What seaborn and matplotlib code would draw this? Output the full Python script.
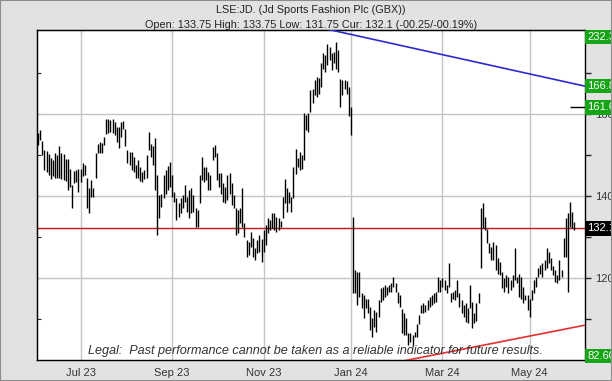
import numpy as np
import pandas as pd
import seaborn as sns
import matplotlib
matplotlib.use('Agg')
import matplotlib.pyplot as plt
import matplotlib.transforms as mtransforms
from matplotlib.patches import Rectangle

#%%  data (daily high / low, UK trading days)

start_date = '2023-06-05'
end_date = '2024-06-03'
uk_holidays = ['2023-08-28', '2023-12-25', '2023-12-26', '2024-01-01',
               '2024-03-29', '2024-04-01', '2024-05-06', '2024-05-27']

highs = [155.3, 156.1, 153.5, 151.2, 151.0, 150.2, 149.2, 148.8, 150.4, 150.0,
         152.2, 150.4, 150.2, 149.0, 149.0, 146.5, 142.7, 146.1, 146.3, 146.6,
         146.7, 148.1, 147.6, 144.3, 141.9, 143.9, 141.9, 150.6, 152.8, 153.1,
         153.0, 154.5, 158.9, 158.7, 158.5, 158.7, 158.1, 156.9, 156.9, 158.1,
         158.3, 156.3, 151.2, 150.8, 150.8, 149.6, 147.6, 148.8, 147.2, 145.9,
         146.3, 150.0,
         155.7, 152.8, 152.2, 154.1, 145.1, 140.2, 140.5, 145.1, 146.3, 147.3,
         148.4, 145.1, 141.1, 139.4, 138.2, 139.4, 140.2, 142.7, 139.8, 141.5,
         141.9, 140.2, 137.0, 136.6, 145.1, 149.6, 147.1, 147.1, 145.9, 145.1,
         152.0, 152.4, 150.4, 145.5, 145.5, 143.1, 142.3, 145.1, 145.5, 143.1,
         140.2, 137.0, 136.6, 137.0, 141.9, 133.3, 129.3, 128.9, 131.3, 129.7,
         127.2,
         129.3, 130.5, 129.6,
         131.7, 132.9, 134.6, 134.1, 135.8, 135.9, 135.0, 134.6, 133.8, 139.8,
         144.1, 141.9, 140.9, 139.8, 147.2, 151.4, 149.2, 150.8, 150.0, 160.2,
         159.8, 160.2, 165.9, 166.0, 168.3, 169.1, 168.7, 172.4, 174.8, 174.4,
         177.2, 176.4, 175.0, 175.2, 177.6, 175.6, 168.5, 168.3, 168.3, 168.0,
         166.7, 161.8,
         135.0, 121.9, 121.5, 121.5, 116.3, 115.8, 115.0, 115.0, 113.0, 110.2,
         112.2, 111.8, 114.6, 117.5, 117.9, 118.3, 117.9, 118.3, 118.7, 120.3,
         118.7, 116.7, 115.8, 112.5, 111.4, 110.2, 106.5, 106.5, 106.1, 106.9,
         108.9, 111.0, 113.4, 113.8, 113.4, 114.6, 115.4, 115.8, 116.3, 116.7,
         120.3, 119.5, 119.9,
         119.5, 118.3, 123.6, 116.3, 116.7, 117.1, 119.5, 116.3, 114.6, 113.4,
         113.8, 112.6, 118.3, 114.2, 111.4, 114.0, 116.3, 137.0, 138.2, 135.0,
         132.0, 128.5, 127.6, 128.9, 128.0, 124.8, 124.0, 121.5, 119.9, 120.7,
         120.3, 119.5, 120.7, 127.2, 120.3, 121.0, 120.3, 117.9, 115.8, 115.8,
         115.0, 117.1, 119.5, 120.3, 122.4, 123.2, 123.6, 124.4, 127.2, 126.4,
         124.8, 123.0, 121.9, 120.7, 124.4, 121.9, 129.7, 134.6, 135.9, 138.6,
         136.2, 133.75]

lows = [152.4, 153.7, 150.0, 146.3, 145.9, 145.1, 144.1, 144.9, 144.5, 144.3,
        144.5, 144.1, 143.9, 143.7, 141.5, 142.3, 137.2, 143.1, 143.5, 141.1,
        143.5, 144.9, 145.1, 137.0, 135.8, 139.8, 139.8, 144.3, 150.4, 150.4,
        150.4, 152.4, 155.1, 155.3, 155.7, 155.4, 154.9, 153.2, 151.6, 154.5,
        156.3, 152.2, 148.0, 147.6, 146.3, 145.9, 144.5, 144.3, 143.7, 143.5,
        144.1, 144.3,
        151.2, 149.6, 147.6, 141.5, 130.5, 134.6, 137.4, 139.4, 140.5, 141.5,
        142.3, 139.8, 138.6, 134.1, 135.0, 135.8, 137.0, 138.6, 136.2, 134.6,
        135.8, 136.2, 132.5, 132.5, 138.2, 143.9, 143.5, 143.9, 141.5, 141.5,
        148.8, 149.6, 143.9, 142.3, 140.6, 138.6, 138.2, 139.0, 140.6, 137.8,
        137.0, 130.5, 130.9, 133.3, 132.5, 130.1, 125.2, 125.6, 127.6, 125.2,
        124.4,
        126.0, 126.4, 124.0,
        126.4, 128.0, 130.9, 131.7, 132.1, 131.7, 131.3, 131.7, 132.5, 134.6,
        138.2, 136.2, 138.2, 136.2, 139.4, 145.3, 147.2, 146.3, 146.7, 148.8,
        156.1, 155.7, 160.6, 162.6, 164.6, 164.2, 165.0, 166.7, 171.1, 170.3,
        172.0, 173.2, 170.8, 172.4, 171.1, 170.3, 161.8, 164.6, 166.0, 165.0,
        159.4, 154.9,
        116.3, 116.3, 113.4, 115.4, 112.6, 110.2, 112.6, 111.4, 107.3, 105.7,
        108.1, 106.9, 110.6, 114.2, 114.6, 115.4, 115.9, 116.7, 116.7, 117.9,
        116.7, 113.8, 113.0, 106.5, 106.1, 106.1, 103.6, 104.5, 103.3, 105.7,
        105.7, 108.9, 111.4, 111.4, 111.8, 112.2, 113.0, 113.4, 113.8, 114.2,
        116.7, 116.7, 117.9,
        117.1, 116.3, 117.9, 114.2, 115.0, 114.6, 115.4, 113.0, 111.4, 110.6,
        109.3, 109.0, 112.6, 107.7, 109.0, 109.6, 113.8, 122.4, 132.1, 131.7,
        128.5, 126.0, 124.4, 124.4, 122.0, 121.1, 120.7, 117.5, 116.7, 117.9,
        116.3, 117.1, 117.9, 119.5, 118.7, 115.4, 115.0, 113.8, 114.6, 112.2,
        110.6, 114.6, 116.3, 117.9, 120.3, 121.1, 120.3, 121.9, 122.4, 123.6,
        121.9, 120.7, 119.1, 118.7, 119.5, 120.3, 125.2, 125.2, 116.7, 132.5,
        132.1, 131.75]

current = 132.1
month_ticks = ['2023-07', '2023-09', '2023-11', '2024-01', '2024-03', '2024-05']
month_labels = ['Jul 23', 'Sep 23', 'Nov 23', 'Jan 24', 'Mar 24', 'May 24']

# trend lines drawn on the chart (date, price)
upper_trend_dates = ['2023-12-01', '2024-06-10']
upper_trend_vals = [181.6, 166.8]
lower_trend_dates = ['2024-02-01', '2024-06-10']
lower_trend_vals = [99.5, 108.5]

# target levels shown at the right hand side
target_top = '232.3'
target_bottom = '82.60'
target_levels = [166.8, 161.6]

title = 'LSE:JD. (Jd Sports Fashion Plc (GBX))'
subtitle = 'Open: 133.75 High: 133.75 Low: 131.75 Cur: 132.1 (-00.25/-00.19%)'
legal = 'Legal:  Past performance cannot be taken as a reliable indicator for future results.'

#%%  trading day index

cal = pd.bdate_range(start_date, '2024-06-28')
cal = cal[~cal.isin(pd.to_datetime(uk_holidays))]
days = cal[cal <= end_date]
df = pd.DataFrame({'date': days, 'high': highs, 'low': lows})
df['pos'] = np.arange(len(df))

tick_pos = [int(np.argmax(days.strftime('%Y-%m') == m)) for m in month_ticks]
up = pd.DataFrame({'pos': cal.get_indexer(pd.to_datetime(upper_trend_dates)),
                   'val': upper_trend_vals})
lo = pd.DataFrame({'pos': cal.get_indexer(pd.to_datetime(lower_trend_dates)),
                   'val': lower_trend_vals})

#%%  plot

sns.set_style('white')
plt.rcParams['font.family'] = ['Liberation Sans', 'DejaVu Sans']

fig = plt.figure(figsize=(6.12, 3.81), dpi=100, facecolor='#e2e2e2')
ax = fig.add_axes([37 / 612, 21 / 381, 548 / 612, 330 / 381])
ax.set_facecolor('white')

ax.vlines(df['pos'], df['low'], df['high'], color='black', lw=1.0, zorder=3)

sns.lineplot(data=up, x='pos', y='val', ax=ax, color='#2b2bd0', lw=1.2, zorder=4)
sns.lineplot(data=lo, x='pos', y='val', ax=ax, color='#e03030', lw=1.2, zorder=4)
ax.axhline(current, color='#c01818', lw=1.0, zorder=2)

ax.set_xlim(-0.5, 257)
ax.set_ylim(100, 180.5)
ax.set_xlabel('')
ax.set_ylabel('')

ax.set_xticks(tick_pos)
ax.set_xticklabels(month_labels)
ax.set_yticks([120, 140, 160])
ax.set_yticks([110, 130, 150, 170], minor=True)
ax.yaxis.tick_right()
ax.tick_params(axis='x', direction='out', length=4, width=1, labelsize=8,
               labelcolor='#333333', pad=2)
ax.tick_params(axis='y', which='both', direction='out', right=True, left=False,
               length=4, width=1, labelsize=8, labelcolor='#333333', pad=3)
ax.grid(True, which='major', color='#c4c4c4', lw=1.0)
ax.set_axisbelow(True)
for s in ax.spines.values():
    s.set_color('black')
    s.set_linewidth(1.0)

# inward ticks on the left and top edges
sec_y = ax.secondary_yaxis('left')
sec_y.set_yticks([110, 120, 130, 140, 150, 160, 170])
sec_y.tick_params(which='both', direction='in', length=3, labelleft=False)
sec_y.set_yticks([], minor=True)
sec_x = ax.secondary_xaxis('top')
sec_x.set_xticks(tick_pos)
sec_x.tick_params(which='both', direction='in', length=3, labeltop=False)
sec_x.set_xticks([], minor=True)

# labels on the right edge
trans = mtransforms.blended_transform_factory(ax.transAxes, ax.transData)
green = '#16a516'
box = dict(boxstyle='square,pad=0.2', fc=green, ec='none')
ax.text(1.004, 0.978, target_top, transform=ax.transAxes, va='center', ha='left',
        color='white', fontsize=8, bbox=box, clip_on=False, zorder=6)
ax.text(1.004, 0.012, target_bottom, transform=ax.transAxes, va='center', ha='left',
        color='white', fontsize=8, bbox=box, clip_on=False, zorder=6)
for lv in target_levels:
    ax.text(1.004, lv, f'{lv:.1f}', transform=trans, va='center', ha='left',
            color='white', fontsize=8, bbox=box, clip_on=False, zorder=6)
ax.hlines(target_levels[1], 250, 257, color='black', lw=1.0, zorder=5)
ax.text(1.004, current, f'{current:.1f}', transform=trans, va='center', ha='left',
        color='white', fontsize=8, clip_on=False, zorder=6,
        bbox=dict(boxstyle='square,pad=0.2', fc='black', ec='none'))

ax.text(0.509, 0.026, legal, transform=ax.transAxes, ha='center', va='center',
        fontsize=9.1, style='italic', color='#333333', zorder=5)

fig.text(0.508, 0.975, title, ha='center', va='center', fontsize=7.8, color='#222222')
fig.text(0.508, 0.934, subtitle, ha='center', va='center', fontsize=7.8, color='#222222')
fig.patches.append(Rectangle((0, 0), 1, 1, transform=fig.transFigure, fill=False,
                             ec='#8c8c8c', lw=1.5))

fig.savefig('out.png', dpi=100, facecolor=fig.get_facecolor())
